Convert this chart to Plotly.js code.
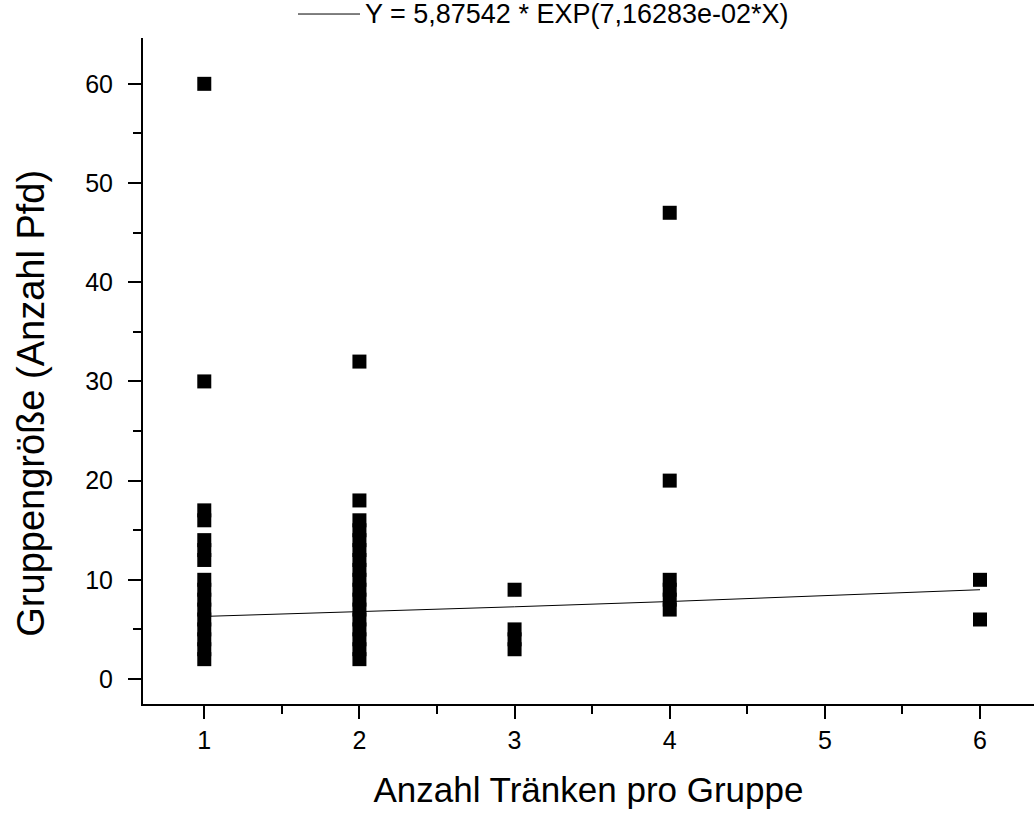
<!DOCTYPE html>
<html>
<head>
<meta charset="utf-8">
<script src="https://cdn.plot.ly/plotly-3.0.1.min.js"></script>
<style>html,body{margin:0;padding:0;background:#fff;}#chart{width:1034px;height:814px;}</style>
</head>
<body>
<div id="chart"></div>
<script>
// Observed group sizes per number of drinkers
const x1Values = [2, 3, 4, 5, 6, 7, 8, 9, 10, 12, 13, 14, 16, 17, 30, 60];
const x2Values = [2, 3, 4, 5, 6, 7, 8, 9, 10, 11, 12, 13, 14, 15, 16, 18, 32];
const x3Values = [3, 4, 5, 9];
const x4Values = [7, 8, 9, 10, 20, 47];
const x6Values = [6, 10];
const groupCounts = [1, 2, 3, 4, 6];
const groupValues = [x1Values, x2Values, x3Values, x4Values, x6Values];

// Fitted curve (Y = 5,87542 * EXP(7,16283e-02*X))
const fitX = [1, 2, 3, 4, 5, 6];
const fitY = [6.31, 6.78, 7.28, 7.81, 8.38, 9.00];
const fitLabel = "Y = 5,87542 * EXP(7,16283e-02*X)";

const xTitle = "Anzahl Tränken pro Gruppe";
const yTitle = "Gruppengröße (Anzahl Pfd)";
const xTickVals = [1, 2, 3, 4, 5, 6];
const yTickVals = [0, 10, 20, 30, 40, 50, 60];

const scatterX = [];
const scatterY = [];
groupCounts.forEach((g, i) => {
  groupValues[i].forEach(v => { scatterX.push(g); scatterY.push(v); });
});

const FONT = "Liberation Sans, Arial, sans-serif";

const traces = [
  {
    x: fitX, y: fitY, mode: "lines", type: "scatter", name: fitLabel,
    line: {color: "#000", width: 1},
    showlegend: false, hoverinfo: "skip"
  },
  {
    x: scatterX, y: scatterY, mode: "markers", type: "scatter",
    marker: {symbol: "square", size: 14, color: "#000", line: {width: 0}},
    showlegend: false
  }
];

const layout = {
  width: 1034, height: 814,
  paper_bgcolor: "#fff", plot_bgcolor: "#fff",
  margin: {l: 143, r: 0, t: 38, b: 110, pad: 0},
  font: {family: FONT, color: "#000", size: 25},
  xaxis: {
    range: [0.605, 6.348],
    tickmode: "array", tickvals: xTickVals,
    ticks: "outside", ticklen: 13, tickwidth: 2, tickcolor: "#000",
    minor: {dtick: 0.5, tick0: 0, ticks: "outside", ticklen: 8, tickwidth: 2, tickcolor: "#000"},
    showline: true, linewidth: 2, linecolor: "#000",
    showgrid: false, zeroline: false,
    tickfont: {size: 25},
    title: {text: xTitle, font: {size: 35}, standoff: 24}
  },
  yaxis: {
    range: [-2.52, 64.62],
    tickmode: "array", tickvals: yTickVals,
    ticks: "outside", ticklen: 13, tickwidth: 2, tickcolor: "#000",
    minor: {dtick: 5, tick0: 0, ticks: "outside", ticklen: 8, tickwidth: 2, tickcolor: "#000"},
    showline: true, linewidth: 2, linecolor: "#000",
    showgrid: false, zeroline: false,
    tickfont: {size: 25},
    ticklabelstandoff: 10
  },
  shapes: [
    {type: "line", xref: "paper", yref: "paper",
     x0: (298 - 143) / 891, x1: (360 - 143) / 891, y0: 1.036, y1: 1.036,
     line: {color: "#000", width: 1}}
  ],
  annotations: [
    {text: fitLabel, xref: "paper", yref: "paper",
     x: (363 - 143) / 891, y: 1.036, xanchor: "left", yanchor: "middle",
     showarrow: false, font: {size: 27, family: FONT}},
    {text: yTitle, xref: "paper", yref: "paper", textangle: -90,
     x: (31 - 143) / 891, y: (704.3 - 404) / 666, xanchor: "center", yanchor: "middle",
     showarrow: false, font: {size: 38, family: FONT}}
  ]
};

Plotly.newPlot("chart", traces, layout, {displayModeBar: false, staticPlot: true});
</script>
</body>
</html>
